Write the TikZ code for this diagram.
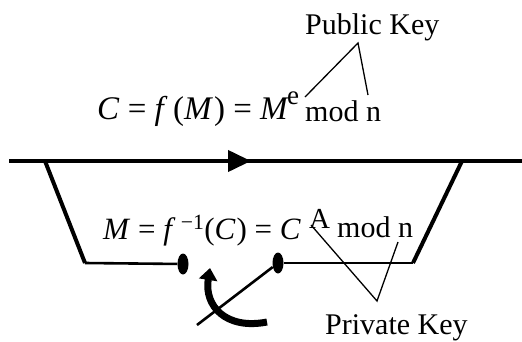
\documentclass[tikz,border=0pt]{standalone}
\usepackage{fontspec}
\setmainfont{Liberation Serif}
\usetikzlibrary{arrows.meta, positioning, shapes.geometric}

\begin{document}
\begin{tikzpicture}[
  x=1pt, y=-1pt,
  wire/.style={line width=4pt, black},
  bus/.style={line width=2.6pt, black},
  callout/.style={line width=1.3pt, black},
  eq/.style={inner sep=0pt, anchor=base west, font=\fontsize{33}{38}\selectfont},
  lbl/.style={inner sep=0pt, anchor=base west, font=\fontsize{30}{36}\selectfont},
  contact/.style={ellipse, fill=black, inner sep=0pt, minimum width=11pt, minimum height=21pt}
]
  \useasboundingbox (0,0) rectangle (522,341);

  % texts
  \node[lbl] (pub) at (305,34) {Public Key};
  \node[eq] (enc) at (97,119) {\textit{C} = \textit{f}\,(\textit{M}\kern1pt) = \textit{M}};
  \node[inner sep=0pt, anchor=base west, font=\fontsize{27}{30}\selectfont] (esup) at (287,104) {e};
  \node[lbl] (modtop) at (305,121) {mod n};
  \node[eq, font=\fontsize{31}{36}\selectfont] (dec) at (103,239) {\textit{M} = \textit{f}\,\textsuperscript{−1}(\textit{C}\kern1pt) = \textit{C}};
  \node[inner sep=0pt, anchor=base west, font=\fontsize{29}{32}\selectfont] (asup) at (309,228) {A};
  \node[lbl] (modbot) at (337,237) {mod n};
  \node[lbl] (priv) at (325,334) {Private Key};

  % line and loop
  \coordinate (lft) at (9,161);
  \coordinate (rgt) at (522,161);
  \coordinate (mid) at (251,161);
  \coordinate (tl) at (45,161);
  \coordinate (bl) at (85,263);
  \coordinate (br) at (413,263);
  \coordinate (tr) at (462,161);
  \node[contact] (c1) at (183,264) {};
  \node[contact] (c2) at (278,263) {};
  \coordinate (pivot) at (197,325);

  \draw[wire] (lft) -- (rgt);
  \draw[wire, -{Triangle[length=23pt,width=21pt]}] (lft) -- (mid);
  \draw[wire] (tl) -- (bl);
  \draw[wire] (br) -- (tr);
  \draw[bus] (bl) -- (c1);
  \draw[bus] (c2) -- (br);
  \draw[bus] (pivot) -- (c2);
  \draw[line width=7pt, -{Triangle[length=12pt,width=18pt]}]
    (267,322) .. controls (226,330) and (204,306) .. (210,268);

  % key callouts
  \coordinate (pubtip) at (358,43);
  \coordinate (privtip) at (377,301);
  \draw[callout] (305,97) -- (pubtip) -- (368,95);
  \draw[callout] (311,225) -- (privtip) -- (398,242);
\end{tikzpicture}
\end{document}
